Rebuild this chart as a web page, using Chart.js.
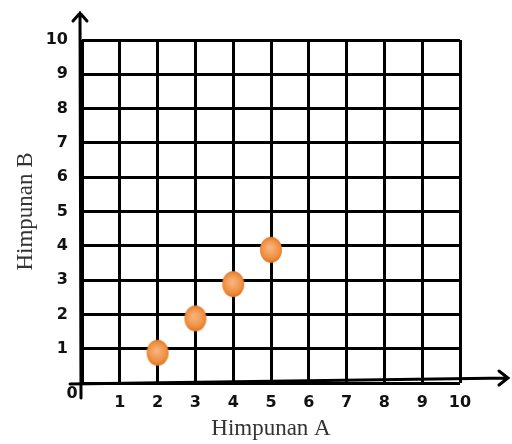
<!DOCTYPE html>
<html>
<head>
<meta charset="utf-8">
<script src="https://cdn.jsdelivr.net/npm/chart.js@4"></script>
<style>
  html, body { margin: 0; padding: 0; background: #fff; }
  #wrap { width: 512px; height: 444px; }
</style>
</head>
<body>
<div id="wrap"><canvas id="myChart"></canvas></div>
<script>
var himpunanA = [2, 3, 4, 5];
var himpunanB = [1, 2, 3, 4];
var xTicks = [0, 1, 2, 3, 4, 5, 6, 7, 8, 9, 10];
var yTicks = [0, 1, 2, 3, 4, 5, 6, 7, 8, 9, 10];

// orange egg-shaped dot, sitting a little below the grid crossing
function makeDot() {
    var c = document.createElement('canvas');
    c.width = 24; c.height = 36;
    var g = c.getContext('2d');
    var grad = g.createRadialGradient(11, 20, 2, 12, 22, 14);
    grad.addColorStop(0, '#f7b07a');
    grad.addColorStop(0.6, '#f0903f');
    grad.addColorStop(1, '#d26d24');
    g.fillStyle = grad;
    g.beginPath();
    g.ellipse(12, 22, 11, 13, 0, 0, Math.PI * 2);
    g.fill();
    return c;
}

var tickFont = { family: "'DejaVu Sans', sans-serif", size: 16, weight: 'bold' };
var titleFont = { family: "'Liberation Serif', serif", size: 23 };

var axisArrows = {
    id: 'axisArrows',
    afterDraw: function(chart) {
        var c = chart.ctx, x = chart.scales.x, y = chart.scales.y;
        var x0 = x.getPixelForValue(0), y0 = y.getPixelForValue(0);
        c.save();
        c.strokeStyle = '#000';
        c.lineWidth = 3;
        c.lineCap = 'round';
        // y axis with arrow
        c.beginPath();
        c.moveTo(x0 - 1, y0 + 15);
        c.lineTo(x0 - 2, 13);
        c.moveTo(x0 - 9, 21);
        c.lineTo(x0 - 2, 13);
        c.lineTo(x0 + 5, 21);
        c.stroke();
        // x axis with arrow
        c.beginPath();
        c.moveTo(x0 - 12, y0 + 1);
        c.lineTo(508, y0 - 5);
        c.moveTo(499, y0 - 12);
        c.lineTo(508, y0 - 5);
        c.lineTo(499, y0 + 2);
        c.stroke();
        // origin label
        c.fillStyle = '#111';
        c.font = "bold 16px 'DejaVu Sans', sans-serif";
        c.textAlign = 'center';
        c.textBaseline = 'middle';
        c.fillText('0', x0 - 10, y0 + 11);
        c.restore();
    }
};

var ctx = document.getElementById('myChart').getContext('2d');
var myChart = new Chart(ctx, {
    type: 'scatter',
    data: {
        datasets: [{
            data: himpunanA.map(function(v, i) { return { x: v, y: himpunanB[i] }; }),
            pointStyle: makeDot(),
            pointRadius: 12
        }]
    },
    options: {
        responsive: true,
        maintainAspectRatio: false,
        animation: false,
        layout: { padding: { top: 40, right: 52, left: 10, bottom: 0 } },
        plugins: {
            legend: { display: false },
            tooltip: { enabled: false }
        },
        scales: {
            x: {
                type: 'linear',
                min: 0,
                max: 10,
                afterBuildTicks: function(axis) {
                    axis.ticks = xTicks.map(function(v) { return { value: v }; });
                },
                afterFit: function(axis) { axis.height = 61; },
                grid: { color: '#000', lineWidth: 3, drawTicks: false },
                border: { display: false },
                ticks: {
                    color: '#111',
                    font: tickFont,
                    padding: 10,
                    callback: function(value) { return value === 0 ? '' : value; }
                },
                title: {
                    display: true,
                    text: 'Himpunan A',
                    color: '#333',
                    font: titleFont,
                    padding: { top: 0, bottom: 1 }
                }
            },
            y: {
                type: 'linear',
                min: 0,
                max: 10,
                afterBuildTicks: function(axis) {
                    axis.ticks = yTicks.map(function(v) { return { value: v }; });
                },
                afterFit: function(axis) { axis.width = 72; },
                grid: { color: '#000', lineWidth: 3, drawTicks: false },
                border: { display: false },
                ticks: {
                    color: '#111',
                    font: tickFont,
                    padding: 14,
                    callback: function(value) { return value === 0 ? '' : value; }
                },
                title: {
                    display: true,
                    text: 'Himpunan B',
                    color: '#333',
                    font: titleFont,
                    padding: { top: 2, bottom: 10 }
                }
            }
        }
    },
    plugins: [axisArrows]
});
</script>
</body>
</html>
